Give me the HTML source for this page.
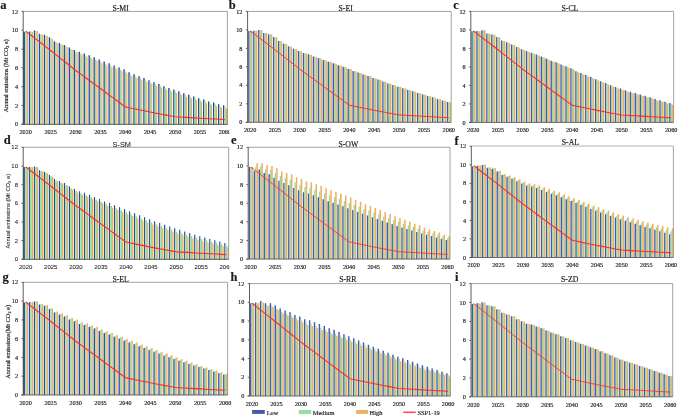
<!DOCTYPE html><html><head><meta charset="utf-8"><style>html,body{margin:0;padding:0;background:#fff}svg{display:block}text{font-family:"Liberation Serif",serif;fill:#1a1a1a}</style></head><body>
<svg width="685" height="417" viewBox="0 0 685 417">
<defs><filter id="tb" x="-5%" y="-5%" width="110%" height="110%"><feGaussianBlur stdDeviation="0.28"/></filter><filter id="sh" x="0" y="0" width="100%" height="100%" color-interpolation-filters="sRGB"><feConvolveMatrix order="3 1" kernelMatrix="-0.09 1.18 -0.09" edgeMode="duplicate" preserveAlpha="true"/></filter></defs>
<rect width="685" height="417" fill="#fff"/>
<g filter="url(#sh)"><rect x="23.20" y="11.40" width="204.15" height="112.90" fill="#fff"/>
<path d="M23.75 124.30V31.63h1.45V124.30zM28.73 124.30V31.44h1.45V124.30zM33.71 124.30V30.50h1.45V124.30zM38.69 124.30V33.79h1.45V124.30zM43.67 124.30V34.83h1.45V124.30zM48.65 124.30V37.37h1.45V124.30zM53.63 124.30V41.13h1.45V124.30zM58.60 124.30V42.92h1.45V124.30zM63.58 124.30V44.99h1.45V124.30zM68.56 124.30V47.53h1.45V124.30zM73.54 124.30V49.88h1.45V124.30zM78.52 124.30V51.86h1.45V124.30zM83.50 124.30V53.55h1.45V124.30zM88.48 124.30V55.34h1.45V124.30zM93.46 124.30V57.22h1.45V124.30zM98.44 124.30V59.38h1.45V124.30zM103.42 124.30V61.55h1.45V124.30zM108.40 124.30V63.24h1.45V124.30zM113.38 124.30V65.40h1.45V124.30zM118.36 124.30V67.38h1.45V124.30zM123.34 124.30V69.36h1.45V124.30zM128.31 124.30V72.27h1.45V124.30zM133.29 124.30V74.15h1.45V124.30zM138.27 124.30V76.13h1.45V124.30zM143.25 124.30V78.11h1.45V124.30zM148.23 124.30V80.17h1.45V124.30zM153.21 124.30V82.15h1.45V124.30zM158.19 124.30V84.03h1.45V124.30zM163.17 124.30V86.20h1.45V124.30zM168.15 124.30V87.89h1.45V124.30zM173.13 124.30V89.40h1.45V124.30zM178.11 124.30V91.37h1.45V124.30zM183.09 124.30V93.25h1.45V124.30zM188.07 124.30V94.85h1.45V124.30zM193.05 124.30V96.55h1.45V124.30zM198.02 124.30V98.24h1.45V124.30zM203.00 124.30V99.56h1.45V124.30zM207.98 124.30V101.44h1.45V124.30zM212.96 124.30V102.57h1.45V124.30zM217.94 124.30V104.17h1.45V124.30zM222.92 124.30V105.30h1.45V124.30z" fill="#4859ad"/>
<path d="M25.20 124.30V31.63h1.5V124.30zM30.18 124.30V31.60h1.5V124.30zM35.16 124.30V30.81h1.5V124.30zM40.14 124.30V34.26h1.5V124.30zM45.12 124.30V35.45h1.5V124.30zM50.10 124.30V38.15h1.5V124.30zM55.08 124.30V42.07h1.5V124.30zM60.05 124.30V44.02h1.5V124.30zM65.03 124.30V46.24h1.5V124.30zM70.01 124.30V48.94h1.5V124.30zM74.99 124.30V51.45h1.5V124.30zM79.97 124.30V53.58h1.5V124.30zM84.95 124.30V55.43h1.5V124.30zM89.93 124.30V57.38h1.5V124.30zM94.91 124.30V59.41h1.5V124.30zM99.89 124.30V61.73h1.5V124.30zM104.87 124.30V63.88h1.5V124.30zM109.85 124.30V65.56h1.5V124.30zM114.83 124.30V67.71h1.5V124.30zM119.81 124.30V69.67h1.5V124.30zM124.79 124.30V71.63h1.5V124.30zM129.76 124.30V74.53h1.5V124.30zM134.74 124.30V76.40h1.5V124.30zM139.72 124.30V78.36h1.5V124.30zM144.70 124.30V80.32h1.5V124.30zM149.68 124.30V82.38h1.5V124.30zM154.66 124.30V84.34h1.5V124.30zM159.64 124.30V86.20h1.5V124.30zM164.62 124.30V88.35h1.5V124.30zM169.60 124.30V90.03h1.5V124.30zM174.58 124.30V91.52h1.5V124.30zM179.56 124.30V93.48h1.5V124.30zM184.54 124.30V95.35h1.5V124.30zM189.52 124.30V96.93h1.5V124.30zM194.50 124.30V98.61h1.5V124.30zM199.47 124.30V100.29h1.5V124.30zM204.45 124.30V101.59h1.5V124.30zM209.43 124.30V103.46h1.5V124.30zM214.41 124.30V104.57h1.5V124.30zM219.39 124.30V106.16h1.5V124.30zM224.37 124.30V107.27h1.5V124.30z" fill="#92dca6"/>
<path d="M26.70 124.30V31.63h1.25V124.30zM31.68 124.30V31.70h1.25V124.30zM36.66 124.30V31.03h1.25V124.30zM41.64 124.30V34.58h1.25V124.30zM46.62 124.30V35.88h1.25V124.30zM51.60 124.30V38.68h1.25V124.30zM56.58 124.30V42.71h1.25V124.30zM61.55 124.30V44.76h1.25V124.30zM66.53 124.30V47.10h1.25V124.30zM71.51 124.30V49.90h1.25V124.30zM76.49 124.30V52.51h1.25V124.30zM81.47 124.30V54.75h1.25V124.30zM86.45 124.30V56.71h1.25V124.30zM91.43 124.30V58.76h1.25V124.30zM96.41 124.30V60.91h1.25V124.30zM101.39 124.30V63.33h1.25V124.30zM106.37 124.30V65.48h1.25V124.30zM111.35 124.30V67.16h1.25V124.30zM116.33 124.30V69.31h1.25V124.30zM121.31 124.30V71.27h1.25V124.30zM126.29 124.30V73.23h1.25V124.30zM131.26 124.30V76.13h1.25V124.30zM136.24 124.30V78.00h1.25V124.30zM141.22 124.30V79.96h1.25V124.30zM146.20 124.30V81.92h1.25V124.30zM151.18 124.30V83.98h1.25V124.30zM156.16 124.30V85.94h1.25V124.30zM161.14 124.30V87.80h1.25V124.30zM166.12 124.30V89.95h1.25V124.30zM171.10 124.30V91.63h1.25V124.30zM176.08 124.30V93.12h1.25V124.30zM181.06 124.30V95.08h1.25V124.30zM186.04 124.30V96.95h1.25V124.30zM191.02 124.30V98.53h1.25V124.30zM196.00 124.30V100.21h1.25V124.30zM200.97 124.30V101.89h1.25V124.30zM205.95 124.30V103.19h1.25V124.30zM210.93 124.30V105.06h1.25V124.30zM215.91 124.30V106.17h1.25V124.30zM220.89 124.30V107.76h1.25V124.30zM225.87 124.30V108.87h1.25V124.30z" fill="#ebb162"/>
</g>
<path d="M23.20 11.40H227.35V124.30" fill="none" stroke="#8c8c8c" stroke-width="0.8"/>
<path d="M23.20 11.10V124.30" fill="none" stroke="#4a4a4a" stroke-width="0.9"/>
<path d="M21.40 124.30H227.35" fill="none" stroke="#5a5a5a" stroke-width="0.9"/>
<path d="M21.40 124.30H23.20M21.40 105.48H23.20M21.40 86.67H23.20M21.40 67.85H23.20M21.40 49.03H23.20M21.40 30.22H23.20M21.40 11.40H23.20" stroke="#4a4a4a" stroke-width="0.8" fill="none"/>
<polyline points="25.69,31.16 30.67,35.01 35.65,38.87 40.63,42.73 45.61,46.59 50.59,50.44 55.57,54.40 60.54,58.35 65.52,62.30 70.50,66.25 75.48,70.20 80.46,73.87 85.44,77.54 90.42,81.21 95.40,84.88 100.38,88.55 105.36,92.22 110.34,95.89 115.32,99.56 120.30,103.23 125.28,106.89 130.25,107.93 135.23,108.96 140.21,110.00 145.19,111.03 150.17,112.07 155.15,113.01 160.13,113.95 165.11,114.89 170.09,115.83 175.07,116.77 180.05,117.06 185.03,117.34 190.01,117.62 194.98,117.90 199.96,118.18 204.94,118.47 209.92,118.75 214.90,119.03 219.88,119.31 224.86,119.60" fill="none" stroke="#ff2a1e" stroke-width="1.1" stroke-linejoin="round"/>
<g><rect x="247.60" y="11.40" width="203.60" height="110.90" fill="#fff"/>
<path d="M248.15 122.30V30.90h1.45V122.30zM253.12 122.30V30.72h1.45V122.30zM258.08 122.30V30.07h1.45V122.30zM263.05 122.30V32.93h1.45V122.30zM268.01 122.30V34.23h1.45V122.30zM272.98 122.30V37.09h1.45V122.30zM277.95 122.30V41.07h1.45V122.30zM282.91 122.30V43.65h1.45V122.30zM287.88 122.30V46.33h1.45V122.30zM292.84 122.30V48.83h1.45V122.30zM297.81 122.30V50.95h1.45V122.30zM302.77 122.30V52.90h1.45V122.30zM307.74 122.30V54.37h1.45V122.30zM312.71 122.30V56.41h1.45V122.30zM317.67 122.30V58.07h1.45V122.30zM322.64 122.30V59.92h1.45V122.30zM327.60 122.30V61.67h1.45V122.30zM332.57 122.30V63.25h1.45V122.30zM337.54 122.30V65.19h1.45V122.30zM342.50 122.30V66.85h1.45V122.30zM347.47 122.30V68.70h1.45V122.30zM352.43 122.30V71.01h1.45V122.30zM357.40 122.30V72.58h1.45V122.30zM362.36 122.30V74.52h1.45V122.30zM367.33 122.30V76.09h1.45V122.30zM372.30 122.30V78.12h1.45V122.30zM377.26 122.30V79.60h1.45V122.30zM382.23 122.30V81.45h1.45V122.30zM387.19 122.30V83.39h1.45V122.30zM392.16 122.30V85.06h1.45V122.30zM397.13 122.30V86.63h1.45V122.30zM402.09 122.30V88.29h1.45V122.30zM407.06 122.30V89.95h1.45V122.30zM412.02 122.30V91.34h1.45V122.30zM416.99 122.30V93.00h1.45V122.30zM421.95 122.30V94.39h1.45V122.30zM426.92 122.30V96.05h1.45V122.30zM431.89 122.30V97.35h1.45V122.30zM436.85 122.30V99.01h1.45V122.30zM441.82 122.30V100.40h1.45V122.30zM446.78 122.30V101.97h1.45V122.30z" fill="#4859ad"/>
<path d="M249.60 122.30V30.90h1.3V122.30zM254.57 122.30V30.74h1.3V122.30zM259.53 122.30V30.12h1.3V122.30zM264.50 122.30V33.02h1.3V122.30zM269.46 122.30V34.34h1.3V122.30zM274.43 122.30V37.23h1.3V122.30zM279.40 122.30V41.23h1.3V122.30zM284.36 122.30V43.85h1.3V122.30zM289.33 122.30V46.56h1.3V122.30zM294.29 122.30V49.08h1.3V122.30zM299.26 122.30V51.23h1.3V122.30zM304.22 122.30V53.17h1.3V122.30zM309.19 122.30V54.64h1.3V122.30zM314.16 122.30V56.67h1.3V122.30zM319.12 122.30V58.34h1.3V122.30zM324.09 122.30V60.18h1.3V122.30zM329.05 122.30V61.93h1.3V122.30zM334.02 122.30V63.50h1.3V122.30zM338.99 122.30V65.44h1.3V122.30zM343.95 122.30V67.10h1.3V122.30zM348.92 122.30V68.94h1.3V122.30zM353.88 122.30V71.25h1.3V122.30zM358.85 122.30V72.82h1.3V122.30zM363.81 122.30V74.76h1.3V122.30zM368.78 122.30V76.33h1.3V122.30zM373.75 122.30V78.36h1.3V122.30zM378.71 122.30V79.83h1.3V122.30zM383.68 122.30V81.68h1.3V122.30zM388.64 122.30V83.61h1.3V122.30zM393.61 122.30V85.27h1.3V122.30zM398.58 122.30V86.84h1.3V122.30zM403.54 122.30V88.50h1.3V122.30zM408.51 122.30V90.16h1.3V122.30zM413.47 122.30V91.55h1.3V122.30zM418.44 122.30V93.21h1.3V122.30zM423.40 122.30V94.59h1.3V122.30zM428.37 122.30V96.25h1.3V122.30zM433.34 122.30V97.54h1.3V122.30zM438.30 122.30V99.20h1.3V122.30zM443.27 122.30V100.59h1.3V122.30zM448.23 122.30V102.15h1.3V122.30z" fill="#92dca6"/>
<path d="M250.90 122.30V30.90h1.55V122.30zM255.87 122.30V30.76h1.55V122.30zM260.83 122.30V30.16h1.55V122.30zM265.80 122.30V33.07h1.55V122.30zM270.76 122.30V34.41h1.55V122.30zM275.73 122.30V37.32h1.55V122.30zM280.70 122.30V41.34h1.55V122.30zM285.66 122.30V43.98h1.55V122.30zM290.63 122.30V46.70h1.55V122.30zM295.59 122.30V49.24h1.55V122.30zM300.56 122.30V51.42h1.55V122.30zM305.52 122.30V53.35h1.55V122.30zM310.49 122.30V54.82h1.55V122.30zM315.46 122.30V56.85h1.55V122.30zM320.42 122.30V58.51h1.55V122.30zM325.39 122.30V60.35h1.55V122.30zM330.35 122.30V62.10h1.55V122.30zM335.32 122.30V63.66h1.55V122.30zM340.29 122.30V65.60h1.55V122.30zM345.25 122.30V67.26h1.55V122.30zM350.22 122.30V69.10h1.55V122.30zM355.18 122.30V71.40h1.55V122.30zM360.15 122.30V72.97h1.55V122.30zM365.11 122.30V74.90h1.55V122.30zM370.08 122.30V76.47h1.55V122.30zM375.05 122.30V78.49h1.55V122.30zM380.01 122.30V79.97h1.55V122.30zM384.98 122.30V81.81h1.55V122.30zM389.94 122.30V83.74h1.55V122.30zM394.91 122.30V85.40h1.55V122.30zM399.88 122.30V86.97h1.55V122.30zM404.84 122.30V88.62h1.55V122.30zM409.81 122.30V90.28h1.55V122.30zM414.77 122.30V91.66h1.55V122.30zM419.74 122.30V93.32h1.55V122.30zM424.70 122.30V94.70h1.55V122.30zM429.67 122.30V96.36h1.55V122.30zM434.64 122.30V97.64h1.55V122.30zM439.60 122.30V99.30h1.55V122.30zM444.57 122.30V100.68h1.55V122.30zM449.53 122.30V102.25h1.55V122.30z" fill="#ebb162"/>
</g>
<path d="M247.60 11.40H451.20V122.30" fill="none" stroke="#8c8c8c" stroke-width="0.8"/>
<path d="M247.60 11.10V122.30" fill="none" stroke="#4a4a4a" stroke-width="0.9"/>
<path d="M245.80 122.30H451.20" fill="none" stroke="#5a5a5a" stroke-width="0.9"/>
<path d="M245.80 122.30H247.60M245.80 103.82H247.60M245.80 85.33H247.60M245.80 66.85H247.60M245.80 48.37H247.60M245.80 29.88H247.60M245.80 11.40H247.60" stroke="#4a4a4a" stroke-width="0.8" fill="none"/>
<polyline points="250.08,30.81 255.05,34.60 260.01,38.39 264.98,42.17 269.95,45.96 274.91,49.75 279.88,53.63 284.84,57.52 289.81,61.40 294.78,65.28 299.74,69.16 304.71,72.76 309.67,76.37 314.64,79.97 319.60,83.58 324.57,87.18 329.54,90.79 334.50,94.39 339.47,97.99 344.43,101.60 349.40,105.20 354.37,106.22 359.33,107.24 364.30,108.25 369.26,109.27 374.23,110.29 379.20,111.21 384.16,112.13 389.13,113.06 394.09,113.98 399.06,114.91 404.02,115.18 408.99,115.46 413.96,115.74 418.92,116.02 423.89,116.29 428.85,116.57 433.82,116.85 438.79,117.12 443.75,117.40 448.72,117.68" fill="none" stroke="#ff2a1e" stroke-width="0.95" stroke-linejoin="round"/>
<g><rect x="470.80" y="11.40" width="202.80" height="111.00" fill="#fff"/>
<path d="M471.35 122.40V31.29h1.45V122.40zM476.30 122.40V31.10h1.45V122.40zM481.24 122.40V30.17h1.45V122.40zM486.19 122.40V33.40h1.45V122.40zM491.14 122.40V34.41h1.45V122.40zM496.08 122.40V36.91h1.45V122.40zM501.03 122.40V40.60h1.45V122.40zM505.97 122.40V42.36h1.45V122.40zM510.92 122.40V44.39h1.45V122.40zM515.87 122.40V46.88h1.45V122.40zM520.81 122.40V49.19h1.45V122.40zM525.76 122.40V51.12h1.45V122.40zM530.71 122.40V52.78h1.45V122.40zM535.65 122.40V54.54h1.45V122.40zM540.60 122.40V56.38h1.45V122.40zM545.55 122.40V58.51h1.45V122.40zM550.49 122.40V60.63h1.45V122.40zM555.44 122.40V62.29h1.45V122.40zM560.38 122.40V64.41h1.45V122.40zM565.33 122.40V66.35h1.45V122.40zM570.28 122.40V68.29h1.45V122.40zM575.22 122.40V71.21h1.45V122.40zM580.17 122.40V73.12h1.45V122.40zM585.12 122.40V75.11h1.45V122.40zM590.06 122.40V77.11h1.45V122.40zM595.01 122.40V79.20h1.45V122.40zM599.95 122.40V81.20h1.45V122.40zM604.90 122.40V83.11h1.45V122.40zM609.85 122.40V85.29h1.45V122.40zM614.79 122.40V87.01h1.45V122.40zM619.74 122.40V88.55h1.45V122.40zM624.69 122.40V90.21h1.45V122.40zM629.63 122.40V91.78h1.45V122.40zM634.58 122.40V93.08h1.45V122.40zM639.53 122.40V94.47h1.45V122.40zM644.47 122.40V95.85h1.45V122.40zM649.42 122.40V97.18h1.45V122.40zM654.36 122.40V99.07h1.45V122.40zM659.31 122.40V100.22h1.45V122.40zM664.26 122.40V101.83h1.45V122.40zM669.20 122.40V102.98h1.45V122.40z" fill="#4859ad"/>
<path d="M472.80 122.40V31.29h1.3V122.40zM477.75 122.40V31.15h1.3V122.40zM482.69 122.40V30.27h1.3V122.40zM487.64 122.40V33.55h1.3V122.40zM492.59 122.40V34.61h1.3V122.40zM497.53 122.40V37.15h1.3V122.40zM502.48 122.40V40.90h1.3V122.40zM507.42 122.40V42.70h1.3V122.40zM512.37 122.40V44.78h1.3V122.40zM517.32 122.40V47.32h1.3V122.40zM522.26 122.40V49.68h1.3V122.40zM527.21 122.40V51.67h1.3V122.40zM532.16 122.40V53.38h1.3V122.40zM537.10 122.40V55.18h1.3V122.40zM542.05 122.40V57.07h1.3V122.40zM547.00 122.40V59.25h1.3V122.40zM551.94 122.40V61.39h1.3V122.40zM556.89 122.40V63.07h1.3V122.40zM561.83 122.40V65.21h1.3V122.40zM566.78 122.40V67.16h1.3V122.40zM571.73 122.40V69.12h1.3V122.40zM576.67 122.40V72.06h1.3V122.40zM581.62 122.40V73.99h1.3V122.40zM586.57 122.40V76.00h1.3V122.40zM591.51 122.40V78.02h1.3V122.40zM596.46 122.40V80.13h1.3V122.40zM601.40 122.40V82.14h1.3V122.40zM606.35 122.40V84.07h1.3V122.40zM611.30 122.40V86.27h1.3V122.40zM616.24 122.40V88.01h1.3V122.40zM621.19 122.40V89.56h1.3V122.40zM626.14 122.40V91.25h1.3V122.40zM631.08 122.40V92.84h1.3V122.40zM636.03 122.40V94.15h1.3V122.40zM640.98 122.40V95.56h1.3V122.40zM645.92 122.40V96.96h1.3V122.40zM650.87 122.40V98.31h1.3V122.40zM655.81 122.40V100.22h1.3V122.40zM660.76 122.40V101.38h1.3V122.40zM665.71 122.40V103.01h1.3V122.40zM670.65 122.40V104.18h1.3V122.40z" fill="#92dca6"/>
<path d="M474.10 122.40V31.29h1.55V122.40zM479.05 122.40V31.18h1.55V122.40zM483.99 122.40V30.33h1.55V122.40zM488.94 122.40V33.64h1.55V122.40zM493.89 122.40V34.73h1.55V122.40zM498.83 122.40V37.31h1.55V122.40zM503.78 122.40V41.08h1.55V122.40zM508.72 122.40V42.92h1.55V122.40zM513.67 122.40V45.03h1.55V122.40zM518.62 122.40V47.60h1.55V122.40zM523.56 122.40V49.99h1.55V122.40zM528.51 122.40V52.01h1.55V122.40zM533.46 122.40V53.75h1.55V122.40zM538.40 122.40V55.58h1.55V122.40zM543.35 122.40V57.51h1.55V122.40zM548.30 122.40V59.71h1.55V122.40zM553.24 122.40V61.85h1.55V122.40zM558.19 122.40V63.53h1.55V122.40zM563.13 122.40V65.67h1.55V122.40zM568.08 122.40V67.63h1.55V122.40zM573.03 122.40V69.58h1.55V122.40zM577.97 122.40V72.52h1.55V122.40zM582.92 122.40V74.45h1.55V122.40zM587.87 122.40V76.46h1.55V122.40zM592.81 122.40V78.48h1.55V122.40zM597.76 122.40V80.59h1.55V122.40zM602.70 122.40V82.61h1.55V122.40zM607.65 122.40V84.53h1.55V122.40zM612.60 122.40V86.73h1.55V122.40zM617.54 122.40V88.47h1.55V122.40zM622.49 122.40V90.03h1.55V122.40zM627.44 122.40V91.71h1.55V122.40zM632.38 122.40V93.30h1.55V122.40zM637.33 122.40V94.61h1.55V122.40zM642.28 122.40V96.02h1.55V122.40zM647.22 122.40V97.43h1.55V122.40zM652.17 122.40V98.78h1.55V122.40zM657.11 122.40V100.68h1.55V122.40zM662.06 122.40V101.85h1.55V122.40zM667.01 122.40V103.47h1.55V122.40zM671.95 122.40V104.64h1.55V122.40z" fill="#ebb162"/>
</g>
<path d="M470.80 11.40H673.60V122.40" fill="none" stroke="#8c8c8c" stroke-width="0.8"/>
<path d="M470.80 11.10V122.40" fill="none" stroke="#4a4a4a" stroke-width="0.9"/>
<path d="M469.00 122.40H673.60" fill="none" stroke="#5a5a5a" stroke-width="0.9"/>
<path d="M469.00 122.40H470.80M469.00 103.90H470.80M469.00 85.40H470.80M469.00 66.90H470.80M469.00 48.40H470.80M469.00 29.90H470.80M469.00 11.40H470.80" stroke="#4a4a4a" stroke-width="0.8" fill="none"/>
<polyline points="473.27,30.83 478.22,34.62 483.17,38.41 488.11,42.20 493.06,46.00 498.00,49.79 502.95,53.67 507.90,57.56 512.84,61.44 517.79,65.33 522.74,69.21 527.68,72.82 532.63,76.43 537.58,80.03 542.52,83.64 547.47,87.25 552.41,90.86 557.36,94.47 562.31,98.07 567.25,101.68 572.20,105.29 577.15,106.31 582.09,107.32 587.04,108.34 591.99,109.36 596.93,110.38 601.88,111.30 606.82,112.23 611.77,113.15 616.72,114.08 621.66,115.00 626.61,115.28 631.56,115.56 636.50,115.83 641.45,116.11 646.40,116.39 651.34,116.67 656.29,116.94 661.23,117.22 666.18,117.50 671.13,117.78" fill="none" stroke="#ff2a1e" stroke-width="1.05" stroke-linejoin="round"/>
<g filter="url(#sh)"><rect x="23.20" y="147.30" width="205.50" height="112.00" fill="#fff"/>
<path d="M23.75 259.30V166.99h1.2V259.30zM28.76 259.30V166.90h1.2V259.30zM33.77 259.30V166.62h1.2V259.30zM38.79 259.30V170.26h1.2V259.30zM43.80 259.30V171.85h1.2V259.30zM48.81 259.30V175.02h1.2V259.30zM53.82 259.30V179.03h1.2V259.30zM58.84 259.30V180.99h1.2V259.30zM63.85 259.30V183.05h1.2V259.30zM68.86 259.30V186.31h1.2V259.30zM73.87 259.30V188.74h1.2V259.30zM78.88 259.30V191.17h1.2V259.30zM83.90 259.30V192.85h1.2V259.30zM88.91 259.30V194.71h1.2V259.30zM93.92 259.30V197.05h1.2V259.30zM98.93 259.30V199.10h1.2V259.30zM103.95 259.30V201.53h1.2V259.30zM108.96 259.30V203.11h1.2V259.30zM113.97 259.30V205.26h1.2V259.30zM118.98 259.30V207.22h1.2V259.30zM123.99 259.30V209.27h1.2V259.30zM129.01 259.30V211.29h1.2V259.30zM134.02 259.30V213.31h1.2V259.30zM139.03 259.30V215.32h1.2V259.30zM144.04 259.30V217.34h1.2V259.30zM149.05 259.30V219.35h1.2V259.30zM154.07 259.30V221.13h1.2V259.30zM159.08 259.30V222.90h1.2V259.30zM164.09 259.30V224.67h1.2V259.30zM169.10 259.30V226.45h1.2V259.30zM174.12 259.30V228.22h1.2V259.30zM179.13 259.30V229.83h1.2V259.30zM184.14 259.30V231.43h1.2V259.30zM189.15 259.30V233.04h1.2V259.30zM194.16 259.30V234.64h1.2V259.30zM199.18 259.30V236.25h1.2V259.30zM204.19 259.30V237.59h1.2V259.30zM209.20 259.30V238.93h1.2V259.30zM214.21 259.30V240.28h1.2V259.30zM219.23 259.30V241.62h1.2V259.30zM224.24 259.30V242.97h1.2V259.30z" fill="#4859ad"/>
<path d="M24.95 259.30V166.99h1.9V259.30zM29.96 259.30V167.13h1.9V259.30zM34.97 259.30V167.09h1.9V259.30zM39.99 259.30V170.96h1.9V259.30zM45.00 259.30V172.78h1.9V259.30zM50.01 259.30V176.19h1.9V259.30zM55.02 259.30V180.43h1.9V259.30zM60.04 259.30V182.63h1.9V259.30zM65.05 259.30V184.91h1.9V259.30zM70.06 259.30V188.41h1.9V259.30zM75.07 259.30V191.07h1.9V259.30zM80.08 259.30V193.58h1.9V259.30zM85.10 259.30V195.35h1.9V259.30zM90.11 259.30V197.30h1.9V259.30zM95.12 259.30V199.72h1.9V259.30zM100.13 259.30V201.85h1.9V259.30zM105.15 259.30V204.36h1.9V259.30zM110.16 259.30V206.03h1.9V259.30zM115.17 259.30V208.27h1.9V259.30zM120.18 259.30V210.31h1.9V259.30zM125.19 259.30V212.45h1.9V259.30zM130.21 259.30V214.46h1.9V259.30zM135.22 259.30V216.48h1.9V259.30zM140.23 259.30V218.49h1.9V259.30zM145.24 259.30V220.51h1.9V259.30zM150.25 259.30V222.53h1.9V259.30zM155.27 259.30V224.30h1.9V259.30zM160.28 259.30V226.07h1.9V259.30zM165.29 259.30V227.85h1.9V259.30zM170.30 259.30V229.62h1.9V259.30zM175.32 259.30V231.39h1.9V259.30zM180.33 259.30V232.91h1.9V259.30zM185.34 259.30V234.42h1.9V259.30zM190.35 259.30V235.93h1.9V259.30zM195.36 259.30V237.44h1.9V259.30zM200.38 259.30V238.95h1.9V259.30zM205.39 259.30V240.24h1.9V259.30zM210.40 259.30V241.53h1.9V259.30zM215.41 259.30V242.82h1.9V259.30zM220.43 259.30V244.11h1.9V259.30zM225.44 259.30V245.39h1.9V259.30z" fill="#92dca6"/>
<path d="M26.85 259.30V166.99h1.45V259.30zM31.86 259.30V167.27h1.45V259.30zM36.87 259.30V167.37h1.45V259.30zM41.89 259.30V171.38h1.45V259.30zM46.90 259.30V173.34h1.45V259.30zM51.91 259.30V176.89h1.45V259.30zM56.92 259.30V181.27h1.45V259.30zM61.94 259.30V183.61h1.45V259.30zM66.95 259.30V186.03h1.45V259.30zM71.96 259.30V189.67h1.45V259.30zM76.97 259.30V192.47h1.45V259.30zM81.98 259.30V195.03h1.45V259.30zM87.00 259.30V196.84h1.45V259.30zM92.01 259.30V198.84h1.45V259.30zM97.02 259.30V201.30h1.45V259.30zM102.03 259.30V203.49h1.45V259.30zM107.05 259.30V206.04h1.45V259.30zM112.06 259.30V207.76h1.45V259.30zM117.07 259.30V210.04h1.45V259.30zM122.08 259.30V212.13h1.45V259.30zM127.09 259.30V214.31h1.45V259.30zM132.11 259.30V216.35h1.45V259.30zM137.12 259.30V218.38h1.45V259.30zM142.13 259.30V220.42h1.45V259.30zM147.14 259.30V222.45h1.45V259.30zM152.15 259.30V224.49h1.45V259.30zM157.17 259.30V226.28h1.45V259.30zM162.18 259.30V228.07h1.45V259.30zM167.19 259.30V229.86h1.45V259.30zM172.20 259.30V231.65h1.45V259.30zM177.22 259.30V233.45h1.45V259.30zM182.23 259.30V235.01h1.45V259.30zM187.24 259.30V236.58h1.45V259.30zM192.25 259.30V238.15h1.45V259.30zM197.26 259.30V239.72h1.45V259.30zM202.28 259.30V241.29h1.45V259.30zM207.29 259.30V242.52h1.45V259.30zM212.30 259.30V243.75h1.45V259.30zM217.31 259.30V244.98h1.45V259.30zM222.33 259.30V246.21h1.45V259.30zM227.34 259.30V247.45h1.45V259.30z" fill="#ebb162"/>
</g>
<path d="M23.20 147.30H228.70V259.30" fill="none" stroke="#8c8c8c" stroke-width="0.8"/>
<path d="M23.20 147.00V259.30" fill="none" stroke="#4a4a4a" stroke-width="0.9"/>
<path d="M21.40 259.30H228.70" fill="none" stroke="#5a5a5a" stroke-width="0.9"/>
<path d="M21.40 259.30H23.20M21.40 240.63H23.20M21.40 221.97H23.20M21.40 203.30H23.20M21.40 184.63H23.20M21.40 165.97H23.20M21.40 147.30H23.20" stroke="#4a4a4a" stroke-width="0.8" fill="none"/>
<polyline points="25.71,166.90 30.72,170.73 35.73,174.55 40.74,178.38 45.75,182.21 50.77,186.03 55.78,189.95 60.79,193.87 65.80,197.79 70.82,201.71 75.83,205.63 80.84,209.27 85.85,212.91 90.86,216.55 95.88,220.19 100.89,223.83 105.90,227.47 110.91,231.11 115.93,234.75 120.94,238.39 125.95,242.03 130.96,243.06 135.97,244.09 140.99,245.11 146.00,246.14 151.01,247.17 156.02,248.10 161.04,249.03 166.05,249.97 171.06,250.90 176.07,251.83 181.08,252.11 186.10,252.39 191.11,252.67 196.12,252.95 201.13,253.23 206.15,253.51 211.16,253.79 216.17,254.07 221.18,254.35 226.19,254.63" fill="none" stroke="#ff2a1e" stroke-width="1.1" stroke-linejoin="round"/>
<g><rect x="248.20" y="147.30" width="201.80" height="111.80" fill="#fff"/>
<path d="M248.75 259.10V167.05h1.45V259.10zM253.67 259.10V171.06h1.45V259.10zM258.59 259.10V169.47h1.45V259.10zM263.52 259.10V173.01h1.45V259.10zM268.44 259.10V174.32h1.45V259.10zM273.36 259.10V177.86h1.45V259.10zM278.28 259.10V180.65h1.45V259.10zM283.20 259.10V183.08h1.45V259.10zM288.13 259.10V185.22h1.45V259.10zM293.05 259.10V187.92h1.45V259.10zM297.97 259.10V190.34h1.45V259.10zM302.89 259.10V192.30h1.45V259.10zM307.81 259.10V193.51h1.45V259.10zM312.74 259.10V195.19h1.45V259.10zM317.66 259.10V197.24h1.45V259.10zM322.58 259.10V199.19h1.45V259.10zM327.50 259.10V201.24h1.45V259.10zM332.42 259.10V202.83h1.45V259.10zM337.35 259.10V204.50h1.45V259.10zM342.27 259.10V206.37h1.45V259.10zM347.19 259.10V208.32h1.45V259.10zM352.11 259.10V210.11h1.45V259.10zM357.03 259.10V211.90h1.45V259.10zM361.95 259.10V213.69h1.45V259.10zM366.88 259.10V215.48h1.45V259.10zM371.80 259.10V217.27h1.45V259.10zM376.72 259.10V219.04h1.45V259.10zM381.64 259.10V220.81h1.45V259.10zM386.56 259.10V222.58h1.45V259.10zM391.49 259.10V224.35h1.45V259.10zM396.41 259.10V226.12h1.45V259.10zM401.33 259.10V227.57h1.45V259.10zM406.25 259.10V229.03h1.45V259.10zM411.17 259.10V230.48h1.45V259.10zM416.10 259.10V231.93h1.45V259.10zM421.02 259.10V233.39h1.45V259.10zM425.94 259.10V234.73h1.45V259.10zM430.86 259.10V236.07h1.45V259.10zM435.78 259.10V237.41h1.45V259.10zM440.71 259.10V238.75h1.45V259.10zM445.63 259.10V240.09h1.45V259.10z" fill="#4859ad"/>
<path d="M250.20 259.10V167.05h1.3V259.10zM255.12 259.10V167.19h1.3V259.10zM260.04 259.10V166.40h1.3V259.10zM264.97 259.10V169.01h1.3V259.10zM269.89 259.10V170.13h1.3V259.10zM274.81 259.10V173.01h1.3V259.10zM279.73 259.10V176.04h1.3V259.10zM284.65 259.10V178.05h1.3V259.10zM289.58 259.10V179.77h1.3V259.10zM294.50 259.10V182.56h1.3V259.10zM299.42 259.10V184.71h1.3V259.10zM304.34 259.10V186.90h1.3V259.10zM309.26 259.10V187.92h1.3V259.10zM314.19 259.10V189.69h1.3V259.10zM319.11 259.10V191.51h1.3V259.10zM324.03 259.10V193.56h1.3V259.10zM328.95 259.10V195.61h1.3V259.10zM333.87 259.10V197.24h1.3V259.10zM338.80 259.10V199.01h1.3V259.10zM343.72 259.10V200.92h1.3V259.10zM348.64 259.10V202.97h1.3V259.10zM353.56 259.10V204.89h1.3V259.10zM358.48 259.10V206.81h1.3V259.10zM363.40 259.10V208.91h1.3V259.10zM368.33 259.10V210.60h1.3V259.10zM373.25 259.10V212.61h1.3V259.10zM378.17 259.10V214.57h1.3V259.10zM383.09 259.10V216.48h1.3V259.10zM388.01 259.10V218.34h1.3V259.10zM392.94 259.10V220.25h1.3V259.10zM397.86 259.10V222.11h1.3V259.10zM402.78 259.10V223.63h1.3V259.10zM407.70 259.10V225.43h1.3V259.10zM412.62 259.10V227.09h1.3V259.10zM417.55 259.10V228.65h1.3V259.10zM422.47 259.10V230.40h1.3V259.10zM427.39 259.10V232.05h1.3V259.10zM432.31 259.10V233.52h1.3V259.10zM437.23 259.10V234.98h1.3V259.10zM442.16 259.10V236.72h1.3V259.10zM447.08 259.10V238.18h1.3V259.10z" fill="#92dca6"/>
<path d="M251.50 259.10V167.05h1.55V259.10zM256.42 259.10V163.32h1.55V259.10zM261.34 259.10V163.32h1.55V259.10zM266.27 259.10V165.00h1.55V259.10zM271.19 259.10V165.93h1.55V259.10zM276.11 259.10V168.17h1.55V259.10zM281.03 259.10V171.43h1.55V259.10zM285.95 259.10V173.01h1.55V259.10zM290.88 259.10V174.32h1.55V259.10zM295.80 259.10V177.21h1.55V259.10zM300.72 259.10V179.07h1.55V259.10zM305.64 259.10V181.49h1.55V259.10zM310.56 259.10V182.33h1.55V259.10zM315.49 259.10V184.19h1.55V259.10zM320.41 259.10V185.78h1.55V259.10zM325.33 259.10V187.92h1.55V259.10zM330.25 259.10V189.97h1.55V259.10zM335.17 259.10V191.65h1.55V259.10zM340.10 259.10V193.51h1.55V259.10zM345.02 259.10V195.47h1.55V259.10zM349.94 259.10V197.61h1.55V259.10zM354.86 259.10V199.66h1.55V259.10zM359.78 259.10V201.71h1.55V259.10zM364.70 259.10V204.13h1.55V259.10zM369.63 259.10V205.72h1.55V259.10zM374.55 259.10V207.95h1.55V259.10zM379.47 259.10V210.09h1.55V259.10zM384.39 259.10V212.14h1.55V259.10zM389.31 259.10V214.10h1.55V259.10zM394.24 259.10V216.15h1.55V259.10zM399.16 259.10V218.11h1.55V259.10zM404.08 259.10V219.69h1.55V259.10zM409.00 259.10V221.83h1.55V259.10zM413.92 259.10V223.70h1.55V259.10zM418.85 259.10V225.37h1.55V259.10zM423.77 259.10V227.42h1.55V259.10zM428.69 259.10V229.38h1.55V259.10zM433.61 259.10V230.96h1.55V259.10zM438.53 259.10V232.55h1.55V259.10zM443.46 259.10V234.69h1.55V259.10zM448.38 259.10V236.27h1.55V259.10z" fill="#ebb162"/>
</g>
<path d="M248.20 147.30H450.00V259.10" fill="none" stroke="#8c8c8c" stroke-width="0.8"/>
<path d="M248.20 147.00V259.10" fill="none" stroke="#4a4a4a" stroke-width="0.9"/>
<path d="M246.40 259.10H450.00" fill="none" stroke="#5a5a5a" stroke-width="0.9"/>
<path d="M246.40 259.10H248.20M246.40 240.47H248.20M246.40 221.83H248.20M246.40 203.20H248.20M246.40 184.57H248.20M246.40 165.93H248.20M246.40 147.30H248.20" stroke="#4a4a4a" stroke-width="0.8" fill="none"/>
<polyline points="250.66,166.87 255.58,170.68 260.50,174.50 265.43,178.32 270.35,182.14 275.27,185.96 280.19,189.88 285.11,193.79 290.04,197.70 294.96,201.62 299.88,205.53 304.80,209.16 309.72,212.80 314.65,216.43 319.57,220.06 324.49,223.70 329.41,227.33 334.33,230.96 339.26,234.60 344.18,238.23 349.10,241.86 354.02,242.89 358.94,243.91 363.87,244.94 368.79,245.96 373.71,246.99 378.63,247.92 383.55,248.85 388.48,249.78 393.40,250.72 398.32,251.65 403.24,251.93 408.16,252.21 413.09,252.49 418.01,252.76 422.93,253.04 427.85,253.32 432.77,253.60 437.70,253.88 442.62,254.16 447.54,254.44" fill="none" stroke="#ff2a1e" stroke-width="0.85" stroke-linejoin="round"/>
<g><rect x="471.30" y="146.20" width="202.10" height="111.30" fill="#fff"/>
<path d="M471.85 257.50V166.23h1.45V257.50zM476.78 257.50V165.68h1.45V257.50zM481.71 257.50V164.94h1.45V257.50zM486.64 257.50V167.81h1.45V257.50zM491.57 257.50V168.65h1.45V257.50zM496.50 257.50V171.52h1.45V257.50zM501.43 257.50V175.05h1.45V257.50zM506.35 257.50V176.71h1.45V257.50zM511.28 257.50V178.76h1.45V257.50zM516.21 257.50V181.17h1.45V257.50zM521.14 257.50V183.58h1.45V257.50zM526.07 257.50V185.53h1.45V257.50zM531.00 257.50V186.55h1.45V257.50zM535.93 257.50V188.12h1.45V257.50zM540.86 257.50V189.98h1.45V257.50zM545.79 257.50V191.93h1.45V257.50zM550.72 257.50V193.87h1.45V257.50zM555.65 257.50V195.36h1.45V257.50zM560.58 257.50V197.21h1.45V257.50zM565.51 257.50V199.16h1.45V257.50zM570.44 257.50V201.11h1.45V257.50zM575.36 257.50V203.06h1.45V257.50zM580.29 257.50V205.00h1.45V257.50zM585.22 257.50V206.95h1.45V257.50zM590.15 257.50V208.90h1.45V257.50zM595.08 257.50V210.85h1.45V257.50zM600.01 257.50V212.53h1.45V257.50zM604.94 257.50V214.22h1.45V257.50zM609.87 257.50V215.91h1.45V257.50zM614.80 257.50V217.60h1.45V257.50zM619.73 257.50V219.29h1.45V257.50zM624.66 257.50V220.81h1.45V257.50zM629.59 257.50V222.33h1.45V257.50zM634.52 257.50V223.85h1.45V257.50zM639.45 257.50V225.37h1.45V257.50zM644.37 257.50V226.89h1.45V257.50zM649.30 257.50V228.36h1.45V257.50zM654.23 257.50V229.82h1.45V257.50zM659.16 257.50V231.29h1.45V257.50zM664.09 257.50V232.75h1.45V257.50zM669.02 257.50V234.22h1.45V257.50z" fill="#4859ad"/>
<path d="M473.30 257.50V166.23h1.3V257.50zM478.23 257.50V165.54h1.3V257.50zM483.16 257.50V164.66h1.3V257.50zM488.09 257.50V167.49h1.3V257.50zM493.02 257.50V168.27h1.3V257.50zM497.95 257.50V171.10h1.3V257.50zM502.88 257.50V174.51h1.3V257.50zM507.80 257.50V176.06h1.3V257.50zM512.73 257.50V177.98h1.3V257.50zM517.66 257.50V180.27h1.3V257.50zM522.59 257.50V182.56h1.3V257.50zM527.52 257.50V184.39h1.3V257.50zM532.45 257.50V185.28h1.3V257.50zM537.38 257.50V186.74h1.3V257.50zM542.31 257.50V188.48h1.3V257.50zM547.24 257.50V190.30h1.3V257.50zM552.17 257.50V192.30h1.3V257.50zM557.10 257.50V193.83h1.3V257.50zM562.03 257.50V195.73h1.3V257.50zM566.96 257.50V197.72h1.3V257.50zM571.89 257.50V199.72h1.3V257.50zM576.81 257.50V201.59h1.3V257.50zM581.74 257.50V203.46h1.3V257.50zM586.67 257.50V205.34h1.3V257.50zM591.60 257.50V207.21h1.3V257.50zM596.53 257.50V209.08h1.3V257.50zM601.46 257.50V210.75h1.3V257.50zM606.39 257.50V212.42h1.3V257.50zM611.32 257.50V214.09h1.3V257.50zM616.25 257.50V215.76h1.3V257.50zM621.18 257.50V217.43h1.3V257.50zM626.11 257.50V218.89h1.3V257.50zM631.04 257.50V220.34h1.3V257.50zM635.97 257.50V221.80h1.3V257.50zM640.90 257.50V223.26h1.3V257.50zM645.82 257.50V224.71h1.3V257.50zM650.75 257.50V226.04h1.3V257.50zM655.68 257.50V227.37h1.3V257.50zM660.61 257.50V228.69h1.3V257.50zM665.54 257.50V230.02h1.3V257.50zM670.47 257.50V231.34h1.3V257.50z" fill="#92dca6"/>
<path d="M474.60 257.50V166.23h1.55V257.50zM479.53 257.50V165.40h1.55V257.50zM484.46 257.50V164.38h1.55V257.50zM489.39 257.50V167.16h1.55V257.50zM494.32 257.50V167.90h1.55V257.50zM499.25 257.50V170.69h1.55V257.50zM504.18 257.50V173.97h1.55V257.50zM509.10 257.50V175.40h1.55V257.50zM514.03 257.50V177.20h1.55V257.50zM518.96 257.50V179.37h1.55V257.50zM523.89 257.50V181.54h1.55V257.50zM528.82 257.50V183.24h1.55V257.50zM533.75 257.50V184.02h1.55V257.50zM538.68 257.50V185.36h1.55V257.50zM543.61 257.50V186.97h1.55V257.50zM548.54 257.50V188.68h1.55V257.50zM553.47 257.50V190.72h1.55V257.50zM558.40 257.50V192.30h1.55V257.50zM563.33 257.50V194.24h1.55V257.50zM568.26 257.50V196.28h1.55V257.50zM573.19 257.50V198.33h1.55V257.50zM578.11 257.50V200.12h1.55V257.50zM583.04 257.50V201.92h1.55V257.50zM587.97 257.50V203.72h1.55V257.50zM592.90 257.50V205.52h1.55V257.50zM597.83 257.50V207.32h1.55V257.50zM602.76 257.50V208.97h1.55V257.50zM607.69 257.50V210.62h1.55V257.50zM612.62 257.50V212.28h1.55V257.50zM617.55 257.50V213.93h1.55V257.50zM622.48 257.50V215.58h1.55V257.50zM627.41 257.50V216.97h1.55V257.50zM632.34 257.50V218.36h1.55V257.50zM637.27 257.50V219.75h1.55V257.50zM642.20 257.50V221.14h1.55V257.50zM647.12 257.50V222.53h1.55V257.50zM652.05 257.50V223.72h1.55V257.50zM656.98 257.50V224.91h1.55V257.50zM661.91 257.50V226.09h1.55V257.50zM666.84 257.50V227.28h1.55V257.50zM671.77 257.50V228.47h1.55V257.50z" fill="#ebb162"/>
</g>
<path d="M471.30 146.00H673.40" fill="none" stroke="#cdcdcd" stroke-width="1.6"/><path d="M673.40 146.20V257.50" fill="none" stroke="#8c8c8c" stroke-width="0.8"/>
<path d="M471.30 145.90V257.50" fill="none" stroke="#4a4a4a" stroke-width="0.9"/>
<path d="M469.50 257.50H673.40" fill="none" stroke="#5a5a5a" stroke-width="0.9"/>
<path d="M469.50 257.50H471.30M469.50 238.95H471.30M469.50 220.40H471.30M469.50 201.85H471.30M469.50 183.30H471.30M469.50 164.75H471.30M469.50 146.20H471.30" stroke="#4a4a4a" stroke-width="0.8" fill="none"/>
<polyline points="473.76,165.68 478.69,169.48 483.62,173.28 488.55,177.09 493.48,180.89 498.41,184.69 503.34,188.59 508.27,192.48 513.20,196.38 518.13,200.27 523.06,204.17 527.99,207.79 532.92,211.40 537.85,215.02 542.77,218.64 547.70,222.25 552.63,225.87 557.56,229.49 562.49,233.11 567.42,236.72 572.35,240.34 577.28,241.36 582.21,242.38 587.14,243.40 592.07,244.42 597.00,245.44 601.93,246.37 606.85,247.30 611.78,248.22 616.71,249.15 621.64,250.08 626.57,250.36 631.50,250.64 636.43,250.91 641.36,251.19 646.29,251.47 651.22,251.75 656.15,252.03 661.08,252.31 666.01,252.58 670.94,252.86" fill="none" stroke="#ff2a1e" stroke-width="1.05" stroke-linejoin="round"/>
<g filter="url(#sh)"><rect x="23.20" y="282.30" width="204.40" height="112.70" fill="#fff"/>
<path d="M23.75 395.00V302.49h1.45V395.00zM28.74 395.00V302.21h1.45V395.00zM33.72 395.00V301.55h1.45V395.00zM38.71 395.00V304.46h1.45V395.00zM43.69 395.00V305.69h1.45V395.00zM48.68 395.00V308.97h1.45V395.00zM53.66 395.00V312.45h1.45V395.00zM58.65 395.00V314.42h1.45V395.00zM63.63 395.00V316.49h1.45V395.00zM68.62 395.00V319.40h1.45V395.00zM73.60 395.00V321.28h1.45V395.00zM78.59 395.00V324.00h1.45V395.00zM83.57 395.00V325.03h1.45V395.00zM88.56 395.00V326.91h1.45V395.00zM93.55 395.00V328.51h1.45V395.00zM98.53 395.00V330.95h1.45V395.00zM103.52 395.00V333.01h1.45V395.00zM108.50 395.00V334.61h1.45V395.00zM113.49 395.00V336.87h1.45V395.00zM118.47 395.00V338.46h1.45V395.00zM123.46 395.00V340.62h1.45V395.00zM128.44 395.00V342.48h1.45V395.00zM133.43 395.00V344.34h1.45V395.00zM138.41 395.00V346.20h1.45V395.00zM143.40 395.00V348.06h1.45V395.00zM148.38 395.00V349.92h1.45V395.00zM153.37 395.00V351.74h1.45V395.00zM158.35 395.00V353.56h1.45V395.00zM163.34 395.00V355.39h1.45V395.00zM168.33 395.00V357.21h1.45V395.00zM173.31 395.00V359.03h1.45V395.00zM178.30 395.00V360.65h1.45V395.00zM183.28 395.00V362.26h1.45V395.00zM188.27 395.00V363.88h1.45V395.00zM193.25 395.00V365.49h1.45V395.00zM198.24 395.00V367.11h1.45V395.00zM203.22 395.00V368.57h1.45V395.00zM208.21 395.00V370.04h1.45V395.00zM213.19 395.00V371.50h1.45V395.00zM218.18 395.00V372.97h1.45V395.00zM223.16 395.00V374.43h1.45V395.00z" fill="#4859ad"/>
<path d="M25.20 395.00V302.49h1.45V395.00zM30.19 395.00V302.13h1.45V395.00zM35.17 395.00V301.38h1.45V395.00zM40.16 395.00V304.21h1.45V395.00zM45.14 395.00V305.35h1.45V395.00zM50.13 395.00V308.55h1.45V395.00zM55.11 395.00V311.94h1.45V395.00zM60.10 395.00V313.83h1.45V395.00zM65.08 395.00V315.81h1.45V395.00zM70.07 395.00V318.64h1.45V395.00zM75.05 395.00V320.43h1.45V395.00zM80.04 395.00V323.15h1.45V395.00zM85.02 395.00V324.18h1.45V395.00zM90.01 395.00V326.05h1.45V395.00zM95.00 395.00V327.64h1.45V395.00zM99.98 395.00V330.08h1.45V395.00zM104.97 395.00V332.14h1.45V395.00zM109.95 395.00V333.73h1.45V395.00zM114.94 395.00V335.98h1.45V395.00zM119.92 395.00V337.57h1.45V395.00zM124.91 395.00V339.73h1.45V395.00zM129.89 395.00V341.58h1.45V395.00zM134.88 395.00V343.44h1.45V395.00zM139.86 395.00V345.29h1.45V395.00zM144.85 395.00V347.15h1.45V395.00zM149.83 395.00V349.00h1.45V395.00zM154.82 395.00V350.82h1.45V395.00zM159.80 395.00V352.64h1.45V395.00zM164.79 395.00V354.46h1.45V395.00zM169.78 395.00V356.27h1.45V395.00zM174.76 395.00V358.09h1.45V395.00zM179.75 395.00V359.78h1.45V395.00zM184.73 395.00V361.47h1.45V395.00zM189.72 395.00V363.16h1.45V395.00zM194.70 395.00V364.85h1.45V395.00zM199.69 395.00V366.54h1.45V395.00zM204.67 395.00V368.07h1.45V395.00zM209.66 395.00V369.60h1.45V395.00zM214.64 395.00V371.14h1.45V395.00zM219.63 395.00V372.67h1.45V395.00zM224.61 395.00V374.20h1.45V395.00z" fill="#92dca6"/>
<path d="M26.65 395.00V302.49h1.35V395.00zM31.64 395.00V302.04h1.35V395.00zM36.62 395.00V301.21h1.35V395.00zM41.61 395.00V303.96h1.35V395.00zM46.59 395.00V305.01h1.35V395.00zM51.58 395.00V308.13h1.35V395.00zM56.56 395.00V311.43h1.35V395.00zM61.55 395.00V313.24h1.35V395.00zM66.53 395.00V315.13h1.35V395.00zM71.52 395.00V317.88h1.35V395.00zM76.50 395.00V319.58h1.35V395.00zM81.49 395.00V322.30h1.35V395.00zM86.47 395.00V323.32h1.35V395.00zM91.46 395.00V325.19h1.35V395.00zM96.45 395.00V326.78h1.35V395.00zM101.43 395.00V329.21h1.35V395.00zM106.42 395.00V331.27h1.35V395.00zM111.40 395.00V332.86h1.35V395.00zM116.39 395.00V335.10h1.35V395.00zM121.37 395.00V336.69h1.35V395.00zM126.36 395.00V338.84h1.35V395.00zM131.34 395.00V340.69h1.35V395.00zM136.33 395.00V342.54h1.35V395.00zM141.31 395.00V344.39h1.35V395.00zM146.30 395.00V346.24h1.35V395.00zM151.28 395.00V348.09h1.35V395.00zM156.27 395.00V349.90h1.35V395.00zM161.25 395.00V351.71h1.35V395.00zM166.24 395.00V353.53h1.35V395.00zM171.23 395.00V355.34h1.35V395.00zM176.21 395.00V357.15h1.35V395.00zM181.20 395.00V358.92h1.35V395.00zM186.18 395.00V360.68h1.35V395.00zM191.17 395.00V362.45h1.35V395.00zM196.15 395.00V364.21h1.35V395.00zM201.14 395.00V365.98h1.35V395.00zM206.12 395.00V367.58h1.35V395.00zM211.11 395.00V369.17h1.35V395.00zM216.09 395.00V370.77h1.35V395.00zM221.08 395.00V372.37h1.35V395.00zM226.06 395.00V373.96h1.35V395.00z" fill="#ebb162"/>
</g>
<path d="M23.20 282.30H227.60V395.00" fill="none" stroke="#8c8c8c" stroke-width="0.8"/>
<path d="M23.20 282.00V395.00" fill="none" stroke="#4a4a4a" stroke-width="0.9"/>
<path d="M21.40 395.00H227.60" fill="none" stroke="#5a5a5a" stroke-width="0.9"/>
<path d="M21.40 395.00H23.20M21.40 376.22H23.20M21.40 357.43H23.20M21.40 338.65H23.20M21.40 319.87H23.20M21.40 301.08H23.20M21.40 282.30H23.20" stroke="#4a4a4a" stroke-width="0.8" fill="none"/>
<polyline points="25.69,302.02 30.68,305.87 35.66,309.72 40.65,313.57 45.63,317.42 50.62,321.28 55.60,325.22 60.59,329.16 65.58,333.11 70.56,337.05 75.55,341.00 80.53,344.66 85.52,348.32 90.50,351.99 95.49,355.65 100.47,359.31 105.46,362.97 110.44,366.64 115.43,370.30 120.41,373.96 125.40,377.63 130.39,378.66 135.37,379.69 140.36,380.72 145.34,381.76 150.33,382.79 155.31,383.73 160.30,384.67 165.28,385.61 170.27,386.55 175.25,387.49 180.24,387.77 185.22,388.05 190.21,388.33 195.20,388.61 200.18,388.90 205.17,389.18 210.15,389.46 215.14,389.74 220.12,390.02 225.11,390.30" fill="none" stroke="#ff2a1e" stroke-width="1.1" stroke-linejoin="round"/>
<g><rect x="249.50" y="283.60" width="201.00" height="112.40" fill="#fff"/>
<path d="M250.05 396.00V303.18h1.45V396.00zM254.95 396.00V302.52h1.45V396.00zM259.85 396.00V300.93h1.45V396.00zM264.76 396.00V303.18h1.45V396.00zM269.66 396.00V303.18h1.45V396.00zM274.56 396.00V305.33h1.45V396.00zM279.46 396.00V308.52h1.45V396.00zM284.37 396.00V310.48h1.45V396.00zM289.27 396.00V312.17h1.45V396.00zM294.17 396.00V314.88h1.45V396.00zM299.07 396.00V316.57h1.45V396.00zM303.98 396.00V319.29h1.45V396.00zM308.88 396.00V320.22h1.45V396.00zM313.78 396.00V322.19h1.45V396.00zM318.68 396.00V324.06h1.45V396.00zM323.59 396.00V326.12h1.45V396.00zM328.49 396.00V328.28h1.45V396.00zM333.39 396.00V329.87h1.45V396.00zM338.29 396.00V332.12h1.45V396.00zM343.20 396.00V334.18h1.45V396.00zM348.10 396.00V336.24h1.45V396.00zM353.00 396.00V338.34h1.45V396.00zM357.90 396.00V340.44h1.45V396.00zM362.81 396.00V342.54h1.45V396.00zM367.71 396.00V344.63h1.45V396.00zM372.61 396.00V346.73h1.45V396.00zM377.51 396.00V348.72h1.45V396.00zM382.42 396.00V350.70h1.45V396.00zM387.32 396.00V352.69h1.45V396.00zM392.22 396.00V354.67h1.45V396.00zM397.12 396.00V356.66h1.45V396.00zM402.03 396.00V358.36h1.45V396.00zM406.93 396.00V360.07h1.45V396.00zM411.83 396.00V361.77h1.45V396.00zM416.73 396.00V363.48h1.45V396.00zM421.64 396.00V365.18h1.45V396.00zM426.54 396.00V366.79h1.45V396.00zM431.44 396.00V368.41h1.45V396.00zM436.34 396.00V370.02h1.45V396.00zM441.25 396.00V371.63h1.45V396.00zM446.15 396.00V373.24h1.45V396.00z" fill="#4859ad"/>
<path d="M251.50 396.00V303.18h1.3V396.00zM256.40 396.00V303.08h1.3V396.00zM261.30 396.00V302.05h1.3V396.00zM266.21 396.00V304.99h1.3V396.00zM271.11 396.00V305.67h1.3V396.00zM276.01 396.00V308.52h1.3V396.00zM280.91 396.00V311.70h1.3V396.00zM285.82 396.00V313.67h1.3V396.00zM290.72 396.00V315.35h1.3V396.00zM295.62 396.00V318.07h1.3V396.00zM300.52 396.00V319.76h1.3V396.00zM305.43 396.00V322.58h1.3V396.00zM310.33 396.00V323.63h1.3V396.00zM315.23 396.00V325.71h1.3V396.00zM320.13 396.00V327.70h1.3V396.00zM325.04 396.00V329.87h1.3V396.00zM329.94 396.00V331.93h1.3V396.00zM334.84 396.00V333.43h1.3V396.00zM339.74 396.00V335.59h1.3V396.00zM344.65 396.00V337.55h1.3V396.00zM349.55 396.00V339.52h1.3V396.00zM354.45 396.00V341.45h1.3V396.00zM359.35 396.00V343.38h1.3V396.00zM364.26 396.00V345.31h1.3V396.00zM369.16 396.00V347.24h1.3V396.00zM374.06 396.00V349.17h1.3V396.00zM378.96 396.00V351.15h1.3V396.00zM383.87 396.00V353.14h1.3V396.00zM388.77 396.00V355.12h1.3V396.00zM393.67 396.00V357.11h1.3V396.00zM398.57 396.00V359.10h1.3V396.00zM403.48 396.00V360.80h1.3V396.00zM408.38 396.00V362.50h1.3V396.00zM413.28 396.00V364.21h1.3V396.00zM418.18 396.00V365.91h1.3V396.00zM423.09 396.00V367.62h1.3V396.00zM427.99 396.00V369.12h1.3V396.00zM432.89 396.00V370.62h1.3V396.00zM437.79 396.00V372.12h1.3V396.00zM442.70 396.00V373.61h1.3V396.00zM447.60 396.00V375.11h1.3V396.00z" fill="#92dca6"/>
<path d="M252.80 396.00V303.18h1.55V396.00zM257.70 396.00V303.40h1.55V396.00zM262.60 396.00V302.69h1.55V396.00zM267.51 396.00V305.94h1.55V396.00zM272.41 396.00V306.95h1.55V396.00zM277.31 396.00V310.11h1.55V396.00zM282.21 396.00V313.46h1.55V396.00zM287.12 396.00V315.60h1.55V396.00zM292.02 396.00V317.45h1.55V396.00zM296.92 396.00V320.34h1.55V396.00zM301.82 396.00V322.19h1.55V396.00zM306.73 396.00V324.98h1.55V396.00zM311.63 396.00V325.99h1.55V396.00zM316.53 396.00V328.04h1.55V396.00zM321.43 396.00V329.98h1.55V396.00zM326.34 396.00V332.12h1.55V396.00zM331.24 396.00V334.20h1.55V396.00zM336.14 396.00V335.72h1.55V396.00zM341.04 396.00V337.89h1.55V396.00zM345.95 396.00V339.87h1.55V396.00zM350.85 396.00V341.86h1.55V396.00zM355.75 396.00V343.79h1.55V396.00zM360.65 396.00V345.72h1.55V396.00zM365.56 396.00V347.65h1.55V396.00zM370.46 396.00V349.58h1.55V396.00zM375.36 396.00V351.51h1.55V396.00zM380.26 396.00V353.44h1.55V396.00zM385.17 396.00V355.37h1.55V396.00zM390.07 396.00V357.30h1.55V396.00zM394.97 396.00V359.23h1.55V396.00zM399.87 396.00V361.16h1.55V396.00zM404.78 396.00V362.86h1.55V396.00zM409.68 396.00V364.57h1.55V396.00zM414.58 396.00V366.27h1.55V396.00zM419.48 396.00V367.97h1.55V396.00zM424.39 396.00V369.68h1.55V396.00zM429.29 396.00V371.03h1.55V396.00zM434.19 396.00V372.38h1.55V396.00zM439.09 396.00V373.73h1.55V396.00zM444.00 396.00V375.07h1.55V396.00zM448.90 396.00V376.42h1.55V396.00z" fill="#ebb162"/>
</g>
<path d="M249.50 283.60H450.50V396.00" fill="none" stroke="#8c8c8c" stroke-width="0.8"/>
<path d="M249.50 283.30V396.00" fill="none" stroke="#4a4a4a" stroke-width="0.9"/>
<path d="M247.70 396.00H450.50" fill="none" stroke="#5a5a5a" stroke-width="0.9"/>
<path d="M247.70 396.00H249.50M247.70 377.27H249.50M247.70 358.53H249.50M247.70 339.80H249.50M247.70 321.07H249.50M247.70 302.33H249.50M247.70 283.60H249.50" stroke="#4a4a4a" stroke-width="0.8" fill="none"/>
<polyline points="251.95,303.27 256.85,307.11 261.76,310.95 266.66,314.79 271.56,318.63 276.46,322.47 281.37,326.41 286.27,330.34 291.17,334.27 296.07,338.21 300.98,342.14 305.88,345.79 310.78,349.45 315.68,353.10 320.59,356.75 325.49,360.41 330.39,364.06 335.29,367.71 340.20,371.37 345.10,375.02 350.00,378.67 354.90,379.70 359.80,380.73 364.71,381.76 369.61,382.79 374.51,383.82 379.41,384.76 384.32,385.70 389.22,386.63 394.12,387.57 399.02,388.51 403.93,388.79 408.83,389.07 413.73,389.35 418.63,389.63 423.54,389.91 428.44,390.19 433.34,390.47 438.24,390.75 443.15,391.04 448.05,391.32" fill="none" stroke="#ff2a1e" stroke-width="1.05" stroke-linejoin="round"/>
<g><rect x="471.00" y="283.60" width="201.70" height="113.20" fill="#fff"/>
<path d="M471.55 396.80V303.98h1.45V396.80zM476.47 396.80V303.22h1.45V396.80zM481.39 396.80V302.37h1.45V396.80zM486.31 396.80V305.20h1.45V396.80zM491.23 396.80V306.33h1.45V396.80zM496.15 396.80V309.26h1.45V396.80zM501.07 396.80V312.75h1.45V396.80zM505.99 396.80V314.54h1.45V396.80zM510.91 396.80V316.15h1.45V396.80zM515.83 396.80V319.16h1.45V396.80zM520.75 396.80V321.33h1.45V396.80zM525.66 396.80V323.69h1.45V396.80zM530.58 396.80V324.54h1.45V396.80zM535.50 396.80V326.62h1.45V396.80zM540.42 396.80V328.22h1.45V396.80zM545.34 396.80V330.48h1.45V396.80zM550.26 396.80V332.56h1.45V396.80zM555.18 396.80V334.16h1.45V396.80zM560.10 396.80V336.24h1.45V396.80zM565.02 396.80V338.12h1.45V396.80zM569.94 396.80V340.29h1.45V396.80zM574.86 396.80V342.05h1.45V396.80zM579.78 396.80V343.80h1.45V396.80zM584.70 396.80V345.56h1.45V396.80zM589.62 396.80V347.31h1.45V396.80zM594.54 396.80V349.07h1.45V396.80zM599.46 396.80V351.16h1.45V396.80zM604.38 396.80V353.26h1.45V396.80zM609.30 396.80V355.35h1.45V396.80zM614.22 396.80V357.44h1.45V396.80zM619.14 396.80V359.54h1.45V396.80zM624.05 396.80V361.14h1.45V396.80zM628.97 396.80V362.75h1.45V396.80zM633.89 396.80V364.35h1.45V396.80zM638.81 396.80V365.95h1.45V396.80zM643.73 396.80V367.56h1.45V396.80zM648.65 396.80V369.25h1.45V396.80zM653.57 396.80V370.95h1.45V396.80zM658.49 396.80V372.65h1.45V396.80zM663.41 396.80V374.35h1.45V396.80zM668.33 396.80V376.05h1.45V396.80z" fill="#4859ad"/>
<path d="M473.00 396.80V304.07h1.3V396.80zM477.92 396.80V303.32h1.3V396.80zM482.84 396.80V302.47h1.3V396.80zM487.76 396.80V305.30h1.3V396.80zM492.68 396.80V306.43h1.3V396.80zM497.60 396.80V309.35h1.3V396.80zM502.52 396.80V312.84h1.3V396.80zM507.44 396.80V314.64h1.3V396.80zM512.36 396.80V316.24h1.3V396.80zM517.28 396.80V319.26h1.3V396.80zM522.20 396.80V321.43h1.3V396.80zM527.11 396.80V323.79h1.3V396.80zM532.03 396.80V324.63h1.3V396.80zM536.95 396.80V326.71h1.3V396.80zM541.87 396.80V328.31h1.3V396.80zM546.79 396.80V330.58h1.3V396.80zM551.71 396.80V332.65h1.3V396.80zM556.63 396.80V334.26h1.3V396.80zM561.55 396.80V336.33h1.3V396.80zM566.47 396.80V338.22h1.3V396.80zM571.39 396.80V340.39h1.3V396.80zM576.31 396.80V342.14h1.3V396.80zM581.23 396.80V343.90h1.3V396.80zM586.15 396.80V345.65h1.3V396.80zM591.07 396.80V347.41h1.3V396.80zM595.99 396.80V349.16h1.3V396.80zM600.91 396.80V351.26h1.3V396.80zM605.83 396.80V353.35h1.3V396.80zM610.75 396.80V355.44h1.3V396.80zM615.67 396.80V357.54h1.3V396.80zM620.59 396.80V359.63h1.3V396.80zM625.50 396.80V361.24h1.3V396.80zM630.42 396.80V362.84h1.3V396.80zM635.34 396.80V364.44h1.3V396.80zM640.26 396.80V366.05h1.3V396.80zM645.18 396.80V367.65h1.3V396.80zM650.10 396.80V369.35h1.3V396.80zM655.02 396.80V371.05h1.3V396.80zM659.94 396.80V372.75h1.3V396.80zM664.86 396.80V374.44h1.3V396.80zM669.78 396.80V376.14h1.3V396.80z" fill="#92dca6"/>
<path d="M474.30 396.80V304.16h1.55V396.80zM479.22 396.80V303.41h1.55V396.80zM484.14 396.80V302.56h1.55V396.80zM489.06 396.80V305.39h1.55V396.80zM493.98 396.80V306.52h1.55V396.80zM498.90 396.80V309.45h1.55V396.80zM503.82 396.80V312.94h1.55V396.80zM508.74 396.80V314.73h1.55V396.80zM513.66 396.80V316.33h1.55V396.80zM518.58 396.80V319.35h1.55V396.80zM523.50 396.80V321.52h1.55V396.80zM528.41 396.80V323.88h1.55V396.80zM533.33 396.80V324.73h1.55V396.80zM538.25 396.80V326.80h1.55V396.80zM543.17 396.80V328.41h1.55V396.80zM548.09 396.80V330.67h1.55V396.80zM553.01 396.80V332.75h1.55V396.80zM557.93 396.80V334.35h1.55V396.80zM562.85 396.80V336.43h1.55V396.80zM567.77 396.80V338.31h1.55V396.80zM572.69 396.80V340.48h1.55V396.80zM577.61 396.80V342.24h1.55V396.80zM582.53 396.80V343.99h1.55V396.80zM587.45 396.80V345.75h1.55V396.80zM592.37 396.80V347.50h1.55V396.80zM597.29 396.80V349.26h1.55V396.80zM602.21 396.80V351.35h1.55V396.80zM607.13 396.80V353.44h1.55V396.80zM612.05 396.80V355.54h1.55V396.80zM616.97 396.80V357.63h1.55V396.80zM621.89 396.80V359.73h1.55V396.80zM626.80 396.80V361.33h1.55V396.80zM631.72 396.80V362.93h1.55V396.80zM636.64 396.80V364.54h1.55V396.80zM641.56 396.80V366.14h1.55V396.80zM646.48 396.80V367.75h1.55V396.80zM651.40 396.80V369.44h1.55V396.80zM656.32 396.80V371.14h1.55V396.80zM661.24 396.80V372.84h1.55V396.80zM666.16 396.80V374.54h1.55V396.80zM671.08 396.80V376.24h1.55V396.80z" fill="#ebb162"/>
</g>
<path d="M471.00 283.60H672.70V396.80" fill="none" stroke="#8c8c8c" stroke-width="0.8"/>
<path d="M471.00 283.30V396.80" fill="none" stroke="#4a4a4a" stroke-width="0.9"/>
<path d="M469.20 396.80H672.70" fill="none" stroke="#5a5a5a" stroke-width="0.9"/>
<path d="M469.20 396.80H471.00M469.20 377.93H471.00M469.20 359.07H471.00M469.20 340.20H471.00M469.20 321.33H471.00M469.20 302.47H471.00M469.20 283.60H471.00" stroke="#4a4a4a" stroke-width="0.8" fill="none"/>
<polyline points="473.46,303.41 478.38,307.28 483.30,311.15 488.22,315.01 493.14,318.88 498.06,322.75 502.98,326.71 507.90,330.67 512.82,334.63 517.74,338.60 522.65,342.56 527.57,346.24 532.49,349.92 537.41,353.60 542.33,357.27 547.25,360.95 552.17,364.63 557.09,368.31 562.01,371.99 566.93,375.67 571.85,379.35 576.77,380.39 581.69,381.42 586.61,382.46 591.53,383.50 596.45,384.54 601.37,385.48 606.29,386.42 611.21,387.37 616.13,388.31 621.05,389.25 625.96,389.54 630.88,389.82 635.80,390.10 640.72,390.39 645.64,390.67 650.56,390.95 655.48,391.23 660.40,391.52 665.32,391.80 670.24,392.08" fill="none" stroke="#ff2a1e" stroke-width="0.85" stroke-linejoin="round"/>
<rect x="252.1" y="410.0" width="12.7" height="3.9" fill="#4859ad"/>
<rect x="298.8" y="410.0" width="12.4" height="3.9" fill="#92dca6"/>
<rect x="356.1" y="410.0" width="11.9" height="3.9" fill="#ebb162"/>
<path d="M403.3 412.3H415.8" stroke="#ff4545" stroke-width="1.5"/>
<g filter="url(#tb)" stroke="#1a1a1a" stroke-width="0.16"><text x="18.00" y="126.45" font-size="6.2" text-anchor="end">0</text><text x="18.00" y="107.63" font-size="6.2" text-anchor="end">2</text><text x="18.00" y="88.82" font-size="6.2" text-anchor="end">4</text><text x="18.00" y="70.00" font-size="6.2" text-anchor="end">6</text><text x="18.00" y="51.18" font-size="6.2" text-anchor="end">8</text><text x="18.00" y="32.37" font-size="6.2" text-anchor="end">10</text><text x="18.00" y="13.55" font-size="6.2" text-anchor="end">12</text><text x="25.69" y="134.20" font-size="6.2" text-anchor="middle">2020</text><text x="50.59" y="134.20" font-size="6.2" text-anchor="middle">2025</text><text x="75.48" y="134.20" font-size="6.2" text-anchor="middle">2030</text><text x="100.38" y="134.20" font-size="6.2" text-anchor="middle">2035</text><text x="125.28" y="134.20" font-size="6.2" text-anchor="middle">2040</text><text x="150.17" y="134.20" font-size="6.2" text-anchor="middle">2045</text><text x="175.07" y="134.20" font-size="6.2" text-anchor="middle">2050</text><text x="199.96" y="134.20" font-size="6.2" text-anchor="middle">2055</text><text x="224.86" y="134.20" font-size="6.2" text-anchor="middle">2060</text><text x="120.65" y="10.70" font-size="7.8" text-anchor="middle">S-MI</text><text x="0.3" y="8.8" font-size="12.5" font-weight="bold" fill="#000">a</text><text transform="translate(8.0,75.8) rotate(-90)" font-size="6.15" text-anchor="middle">Annual emissions (Mt CO<tspan dy="1.2" font-size="4.2">2</tspan><tspan dy="-1.2"> e)</tspan></text><text x="242.40" y="124.45" font-size="6.2" text-anchor="end">0</text><text x="242.40" y="105.97" font-size="6.2" text-anchor="end">2</text><text x="242.40" y="87.48" font-size="6.2" text-anchor="end">4</text><text x="242.40" y="69.00" font-size="6.2" text-anchor="end">6</text><text x="242.40" y="50.52" font-size="6.2" text-anchor="end">8</text><text x="242.40" y="32.03" font-size="6.2" text-anchor="end">10</text><text x="242.40" y="13.55" font-size="6.2" text-anchor="end">12</text><text x="250.08" y="132.20" font-size="6.2" text-anchor="middle">2020</text><text x="274.91" y="132.20" font-size="6.2" text-anchor="middle">2025</text><text x="299.74" y="132.20" font-size="6.2" text-anchor="middle">2030</text><text x="324.57" y="132.20" font-size="6.2" text-anchor="middle">2035</text><text x="349.40" y="132.20" font-size="6.2" text-anchor="middle">2040</text><text x="374.23" y="132.20" font-size="6.2" text-anchor="middle">2045</text><text x="399.06" y="132.20" font-size="6.2" text-anchor="middle">2050</text><text x="423.89" y="132.20" font-size="6.2" text-anchor="middle">2055</text><text x="448.72" y="132.20" font-size="6.2" text-anchor="middle">2060</text><text x="345.65" y="10.70" font-size="7.8" text-anchor="middle">S-EI</text><text x="228.8" y="8.8" font-size="12.5" font-weight="bold" fill="#000">b</text><text x="465.60" y="124.55" font-size="6.2" text-anchor="end">0</text><text x="465.60" y="106.05" font-size="6.2" text-anchor="end">2</text><text x="465.60" y="87.55" font-size="6.2" text-anchor="end">4</text><text x="465.60" y="69.05" font-size="6.2" text-anchor="end">6</text><text x="465.60" y="50.55" font-size="6.2" text-anchor="end">8</text><text x="465.60" y="32.05" font-size="6.2" text-anchor="end">10</text><text x="465.60" y="13.55" font-size="6.2" text-anchor="end">12</text><text x="473.27" y="132.30" font-size="6.2" text-anchor="middle">2020</text><text x="498.00" y="132.30" font-size="6.2" text-anchor="middle">2025</text><text x="522.74" y="132.30" font-size="6.2" text-anchor="middle">2030</text><text x="547.47" y="132.30" font-size="6.2" text-anchor="middle">2035</text><text x="572.20" y="132.30" font-size="6.2" text-anchor="middle">2040</text><text x="596.93" y="132.30" font-size="6.2" text-anchor="middle">2045</text><text x="621.66" y="132.30" font-size="6.2" text-anchor="middle">2050</text><text x="646.40" y="132.30" font-size="6.2" text-anchor="middle">2055</text><text x="671.13" y="132.30" font-size="6.2" text-anchor="middle">2060</text><text x="569.95" y="10.70" font-size="7.8" text-anchor="middle">S-CL</text><text x="453.3" y="9.2" font-size="12.5" font-weight="bold" fill="#000">c</text><text x="18.00" y="261.45" font-size="6.0" style="font-family:'Liberation Sans',sans-serif" stroke-width="0.06" text-anchor="end">0</text><text x="18.00" y="242.78" font-size="6.0" style="font-family:'Liberation Sans',sans-serif" stroke-width="0.06" text-anchor="end">2</text><text x="18.00" y="224.12" font-size="6.0" style="font-family:'Liberation Sans',sans-serif" stroke-width="0.06" text-anchor="end">4</text><text x="18.00" y="205.45" font-size="6.0" style="font-family:'Liberation Sans',sans-serif" stroke-width="0.06" text-anchor="end">6</text><text x="18.00" y="186.78" font-size="6.0" style="font-family:'Liberation Sans',sans-serif" stroke-width="0.06" text-anchor="end">8</text><text x="18.00" y="168.12" font-size="6.0" style="font-family:'Liberation Sans',sans-serif" stroke-width="0.06" text-anchor="end">10</text><text x="18.00" y="149.45" font-size="6.0" style="font-family:'Liberation Sans',sans-serif" stroke-width="0.06" text-anchor="end">12</text><text x="25.71" y="269.40" font-size="6.0" style="font-family:'Liberation Sans',sans-serif" stroke-width="0.06" text-anchor="middle">2020</text><text x="50.77" y="269.40" font-size="6.0" style="font-family:'Liberation Sans',sans-serif" stroke-width="0.06" text-anchor="middle">2025</text><text x="75.83" y="269.40" font-size="6.0" style="font-family:'Liberation Sans',sans-serif" stroke-width="0.06" text-anchor="middle">2030</text><text x="100.89" y="269.40" font-size="6.0" style="font-family:'Liberation Sans',sans-serif" stroke-width="0.06" text-anchor="middle">2035</text><text x="125.95" y="269.40" font-size="6.0" style="font-family:'Liberation Sans',sans-serif" stroke-width="0.06" text-anchor="middle">2040</text><text x="151.01" y="269.40" font-size="6.0" style="font-family:'Liberation Sans',sans-serif" stroke-width="0.06" text-anchor="middle">2045</text><text x="176.07" y="269.40" font-size="6.0" style="font-family:'Liberation Sans',sans-serif" stroke-width="0.06" text-anchor="middle">2050</text><text x="201.13" y="269.40" font-size="6.0" style="font-family:'Liberation Sans',sans-serif" stroke-width="0.06" text-anchor="middle">2055</text><text x="226.19" y="269.40" font-size="6.0" style="font-family:'Liberation Sans',sans-serif" stroke-width="0.06" text-anchor="middle">2060</text><text x="121.80" y="146.70" font-size="7.4" style="font-family:'Liberation Sans',sans-serif" stroke-width="0.06" text-anchor="middle">S-SM</text><text x="3.7" y="144.0" font-size="12.5" font-weight="bold" fill="#000">d</text><text transform="translate(10.0,211.2) rotate(-90)" font-size="5.8" style="font-family:'Liberation Sans',sans-serif" stroke-width="0.06" text-anchor="middle">Annual emissions (Mt CO<tspan dy="1.2" font-size="4.2">2</tspan><tspan dy="-1.2"> e)</tspan></text><text x="243.00" y="261.25" font-size="6.2" text-anchor="end">0</text><text x="243.00" y="242.62" font-size="6.2" text-anchor="end">2</text><text x="243.00" y="223.98" font-size="6.2" text-anchor="end">4</text><text x="243.00" y="205.35" font-size="6.2" text-anchor="end">6</text><text x="243.00" y="186.72" font-size="6.2" text-anchor="end">8</text><text x="243.00" y="168.08" font-size="6.2" text-anchor="end">10</text><text x="243.00" y="149.45" font-size="6.2" text-anchor="end">12</text><text x="250.66" y="269.00" font-size="6.2" text-anchor="middle">2020</text><text x="275.27" y="269.00" font-size="6.2" text-anchor="middle">2025</text><text x="299.88" y="269.00" font-size="6.2" text-anchor="middle">2030</text><text x="324.49" y="269.00" font-size="6.2" text-anchor="middle">2035</text><text x="349.10" y="269.00" font-size="6.2" text-anchor="middle">2040</text><text x="373.71" y="269.00" font-size="6.2" text-anchor="middle">2045</text><text x="398.32" y="269.00" font-size="6.2" text-anchor="middle">2050</text><text x="422.93" y="269.00" font-size="6.2" text-anchor="middle">2055</text><text x="447.54" y="269.00" font-size="6.2" text-anchor="middle">2060</text><text x="348.40" y="146.50" font-size="7.8" text-anchor="middle">S-OW</text><text x="231.1" y="144.0" font-size="12.5" font-weight="bold" fill="#000">e</text><text x="466.10" y="259.65" font-size="6.2" text-anchor="end">0</text><text x="466.10" y="241.10" font-size="6.2" text-anchor="end">2</text><text x="466.10" y="222.55" font-size="6.2" text-anchor="end">4</text><text x="466.10" y="204.00" font-size="6.2" text-anchor="end">6</text><text x="466.10" y="185.45" font-size="6.2" text-anchor="end">8</text><text x="466.10" y="166.90" font-size="6.2" text-anchor="end">10</text><text x="466.10" y="148.35" font-size="6.2" text-anchor="end">12</text><text x="473.76" y="267.40" font-size="6.2" text-anchor="middle">2020</text><text x="498.41" y="267.40" font-size="6.2" text-anchor="middle">2025</text><text x="523.06" y="267.40" font-size="6.2" text-anchor="middle">2030</text><text x="547.70" y="267.40" font-size="6.2" text-anchor="middle">2035</text><text x="572.35" y="267.40" font-size="6.2" text-anchor="middle">2040</text><text x="597.00" y="267.40" font-size="6.2" text-anchor="middle">2045</text><text x="621.64" y="267.40" font-size="6.2" text-anchor="middle">2050</text><text x="646.29" y="267.40" font-size="6.2" text-anchor="middle">2055</text><text x="670.94" y="267.40" font-size="6.2" text-anchor="middle">2060</text><text x="570.40" y="145.40" font-size="7.8" text-anchor="middle">S-AL</text><text x="454.6" y="145.3" font-size="12.5" font-weight="bold" fill="#000">f</text><text x="18.00" y="397.15" font-size="6.2" text-anchor="end">0</text><text x="18.00" y="378.37" font-size="6.2" text-anchor="end">2</text><text x="18.00" y="359.58" font-size="6.2" text-anchor="end">4</text><text x="18.00" y="340.80" font-size="6.2" text-anchor="end">6</text><text x="18.00" y="322.02" font-size="6.2" text-anchor="end">8</text><text x="18.00" y="303.23" font-size="6.2" text-anchor="end">10</text><text x="18.00" y="284.45" font-size="6.2" text-anchor="end">12</text><text x="25.69" y="404.90" font-size="6.2" text-anchor="middle">2020</text><text x="50.62" y="404.90" font-size="6.2" text-anchor="middle">2025</text><text x="75.55" y="404.90" font-size="6.2" text-anchor="middle">2030</text><text x="100.47" y="404.90" font-size="6.2" text-anchor="middle">2035</text><text x="125.40" y="404.90" font-size="6.2" text-anchor="middle">2040</text><text x="150.33" y="404.90" font-size="6.2" text-anchor="middle">2045</text><text x="175.25" y="404.90" font-size="6.2" text-anchor="middle">2050</text><text x="200.18" y="404.90" font-size="6.2" text-anchor="middle">2055</text><text x="225.11" y="404.90" font-size="6.2" text-anchor="middle">2060</text><text x="120.65" y="281.50" font-size="7.8" text-anchor="middle">S-EL</text><text x="2.6" y="280.9" font-size="12.5" font-weight="bold" fill="#000">g</text><text transform="translate(10.0,341.9) rotate(-90)" font-size="6.35" text-anchor="middle">Annual emissions(Mt CO<tspan dy="1.2" font-size="4.2">2</tspan><tspan dy="-1.2"> e)</tspan></text><text x="244.30" y="398.15" font-size="6.2" text-anchor="end">0</text><text x="244.30" y="379.42" font-size="6.2" text-anchor="end">2</text><text x="244.30" y="360.68" font-size="6.2" text-anchor="end">4</text><text x="244.30" y="341.95" font-size="6.2" text-anchor="end">6</text><text x="244.30" y="323.22" font-size="6.2" text-anchor="end">8</text><text x="244.30" y="304.48" font-size="6.2" text-anchor="end">10</text><text x="244.30" y="285.75" font-size="6.2" text-anchor="end">12</text><text x="251.95" y="405.90" font-size="6.2" text-anchor="middle">2020</text><text x="276.46" y="405.90" font-size="6.2" text-anchor="middle">2025</text><text x="300.98" y="405.90" font-size="6.2" text-anchor="middle">2030</text><text x="325.49" y="405.90" font-size="6.2" text-anchor="middle">2035</text><text x="350.00" y="405.90" font-size="6.2" text-anchor="middle">2040</text><text x="374.51" y="405.90" font-size="6.2" text-anchor="middle">2045</text><text x="399.02" y="405.90" font-size="6.2" text-anchor="middle">2050</text><text x="423.54" y="405.90" font-size="6.2" text-anchor="middle">2055</text><text x="448.05" y="405.90" font-size="6.2" text-anchor="middle">2060</text><text x="347.80" y="281.60" font-size="7.8" text-anchor="middle">S-RR</text><text x="230.4" y="281.0" font-size="12.5" font-weight="bold" fill="#000">h</text><text x="465.80" y="398.95" font-size="6.2" text-anchor="end">0</text><text x="465.80" y="380.08" font-size="6.2" text-anchor="end">2</text><text x="465.80" y="361.22" font-size="6.2" text-anchor="end">4</text><text x="465.80" y="342.35" font-size="6.2" text-anchor="end">6</text><text x="465.80" y="323.48" font-size="6.2" text-anchor="end">8</text><text x="465.80" y="304.62" font-size="6.2" text-anchor="end">10</text><text x="465.80" y="285.75" font-size="6.2" text-anchor="end">12</text><text x="473.46" y="406.70" font-size="6.2" text-anchor="middle">2020</text><text x="498.06" y="406.70" font-size="6.2" text-anchor="middle">2025</text><text x="522.65" y="406.70" font-size="6.2" text-anchor="middle">2030</text><text x="547.25" y="406.70" font-size="6.2" text-anchor="middle">2035</text><text x="571.85" y="406.70" font-size="6.2" text-anchor="middle">2040</text><text x="596.45" y="406.70" font-size="6.2" text-anchor="middle">2045</text><text x="621.05" y="406.70" font-size="6.2" text-anchor="middle">2050</text><text x="645.64" y="406.70" font-size="6.2" text-anchor="middle">2055</text><text x="670.24" y="406.70" font-size="6.2" text-anchor="middle">2060</text><text x="569.70" y="281.90" font-size="7.8" text-anchor="middle">S-ZD</text><text x="454.9" y="280.7" font-size="12.5" font-weight="bold" fill="#000">i</text><text x="266.7" y="414.6" font-size="6.4">Low</text><text x="312.8" y="414.6" font-size="6.4">Medium</text><text x="369.6" y="414.6" font-size="6.4">High</text><text x="417.4" y="414.6" font-size="6.4">SSP1-19</text></g>
<rect x="229.4" y="128" width="4" height="8" fill="#fff"/><rect x="229.6" y="263" width="4" height="8" fill="#fff"/>
</svg></body></html>
